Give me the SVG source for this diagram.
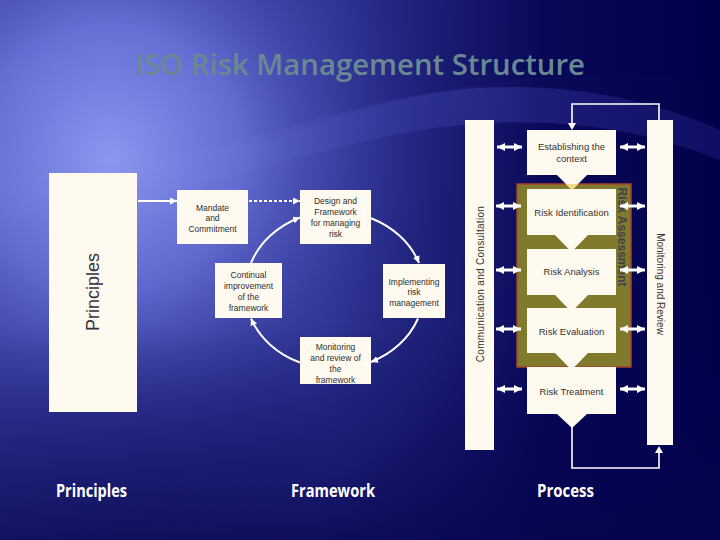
<svg xmlns="http://www.w3.org/2000/svg" width="720" height="540" viewBox="0 0 720 540">
<defs>
<linearGradient id="bgH" x1="0" y1="0" x2="1" y2="0">
<stop offset="0" stop-color="#4e54b8"/>
<stop offset="0.45" stop-color="#3a3fa0"/>
<stop offset="0.75" stop-color="#0a0a5a"/>
<stop offset="1" stop-color="#00004a"/>
</linearGradient>
<radialGradient id="glow" cx="110" cy="160" r="380" gradientUnits="userSpaceOnUse">
<stop offset="0" stop-color="#949ff8" stop-opacity="1"/>
<stop offset="0.35" stop-color="#6f78e0" stop-opacity="0.85"/>
<stop offset="0.75" stop-color="#2a2e90" stop-opacity="0.3"/>
<stop offset="1" stop-color="#000050" stop-opacity="0"/>
</radialGradient>
<linearGradient id="bgV" x1="0" y1="0" x2="0" y2="1">
<stop offset="0" stop-color="#000050" stop-opacity="0"/>
<stop offset="0.6" stop-color="#000050" stop-opacity="0.1"/>
<stop offset="1" stop-color="#05054f" stop-opacity="0.85"/>
</linearGradient>
<linearGradient id="swoosh" x1="0" y1="0" x2="1" y2="0">
<stop offset="0" stop-color="#8a92f0" stop-opacity="0.25"/>
<stop offset="0.6" stop-color="#4a50c0" stop-opacity="0.35"/>
<stop offset="1" stop-color="#3a40b0" stop-opacity="0.25"/>
</linearGradient>
<marker id="ah" viewBox="0 0 8 8" refX="8" refY="4" markerWidth="7" markerHeight="7" markerUnits="userSpaceOnUse" orient="auto">
<path d="M0,0 L8,4 L0,8 z" fill="#ffffff"/>
</marker>
<marker id="dh" viewBox="0 0 8 8" refX="8" refY="4" markerWidth="8" markerHeight="8" markerUnits="userSpaceOnUse" orient="auto-start-reverse">
<path d="M0,0 L8,4 L0,8 z" fill="#ffffff"/>
</marker>
</defs>
<style>
.box{fill:#fffaef}
.t{font-family:"Liberation Sans",Arial,sans-serif;font-size:8.5px;fill:#2e2e2e;text-anchor:middle}
.r{font-family:"Liberation Sans",Arial,sans-serif;font-size:9.5px;fill:#333333;text-anchor:middle}
.bar{font-family:"Liberation Sans",Arial,sans-serif;font-size:10px;fill:#333333;text-anchor:middle}
.lab{font-family:"Open Sans","Liberation Sans",sans-serif;font-size:17px;font-weight:bold;fill:#ffffff;text-anchor:middle}
.cyc{fill:none;stroke:#ffffff;stroke-width:2;marker-end:url(#ah)}
.dbl{stroke:#ffffff;stroke-width:3;marker-start:url(#dh);marker-end:url(#dh)}
.ln{fill:none;stroke:#ffffff;stroke-width:1.6}
</style>
<!-- background -->
<rect width="720" height="540" fill="url(#bgH)"/>
<path d="M0,0 H720 V80 C560,60 420,90 300,130 C200,165 90,150 0,150 Z" fill="#000050" opacity="0.12"/>
<path d="M0,175 C150,185 280,120 420,95 C540,75 640,95 720,130 V160 C620,120 520,115 420,130 C300,150 180,200 0,220 Z" fill="url(#swoosh)"/>
<rect width="720" height="540" fill="url(#glow)"/>
<rect width="720" height="540" fill="url(#bgV)"/>
<!-- title -->
<text x="360" y="75" font-family="'Open Sans','Liberation Sans',sans-serif" font-size="28" font-weight="600" fill="#6a8794" text-anchor="middle" textLength="450" lengthAdjust="spacingAndGlyphs">ISO Risk Management Structure</text>

<!-- Principles -->
<g id="principles">
<rect class="box" x="49" y="173" width="88" height="239"/>
<text transform="translate(99,292) rotate(-90)" font-family="'Liberation Sans',Arial,sans-serif" font-size="18" fill="#333344" text-anchor="middle">Principles</text>
</g>

<!-- Framework nodes -->
<g id="mandate">
<rect class="box" x="177" y="190" width="71" height="54"/>
<text class="t" x="212.5" y="211">Mandate</text>
<text class="t" x="212.5" y="221">and</text>
<text class="t" x="212.5" y="232">Commitment</text>
</g>
<g id="design">
<rect class="box" x="300" y="190" width="71" height="54"/>
<text class="t" x="335.5" y="204">Design and</text>
<text class="t" x="335.5" y="215">Framework</text>
<text class="t" x="335.5" y="226">for managing</text>
<text class="t" x="335.5" y="237">risk</text>
</g>
<g id="implementing">
<rect class="box" x="383" y="264" width="62" height="54"/>
<text class="t" x="414" y="285">Implementing</text>
<text class="t" x="414" y="295">risk</text>
<text class="t" x="414" y="306">management</text>
</g>
<g id="monitoring">
<rect class="box" x="300" y="337" width="71" height="47"/>
<text class="t" x="335.5" y="350">Monitoring</text>
<text class="t" x="335.5" y="361">and review of</text>
<text class="t" x="335.5" y="372">the</text>
<text class="t" x="335.5" y="383">framework</text>
</g>
<g id="continual">
<rect class="box" x="215" y="263" width="67" height="55"/>
<text class="t" x="248.5" y="278">Continual</text>
<text class="t" x="248.5" y="289">improvement</text>
<text class="t" x="248.5" y="300">of the</text>
<text class="t" x="248.5" y="311">framework</text>
</g>

<!-- Process -->
<g id="comm">
<rect class="box" x="465" y="120" width="29" height="330"/>
<text class="bar" transform="translate(483.5,284) rotate(-90)" letter-spacing="0.3">Communication and Consultation</text>
</g>
<g id="review">
<rect class="box" x="647" y="120" width="26" height="325"/>
<text class="bar" transform="translate(656.5,284) rotate(90)" font-size="10.5">Monitoring and Review</text>
</g>
<g id="assessment">
<rect x="517" y="184" width="114" height="183" fill="#7f7a2c" stroke="#a8402a" stroke-width="1.5"/>
<text transform="translate(618,237) rotate(90)" font-family="'Liberation Sans',Arial,sans-serif" font-size="12" font-weight="bold" fill="#404050" text-anchor="middle">Risk Assessment</text>
</g>
<g id="context">
<polygon class="box" points="527,130 616,130 616,175 587,175 572,190 557,175 527,175"/>
<polygon points="566,184 578,184 572,190" fill="#f3dc88"/>
<text class="r" x="571.5" y="150">Establishing the</text>
<text class="r" x="571.5" y="162">context</text>
</g>
<g id="identification">
<polygon class="box" points="527,189 616,189 616,235 588,235 571.5,252 555,235 527,235"/>
<text class="r" x="571.5" y="216">Risk Identification</text>
</g>
<g id="analysis">
<polygon class="box" points="527,249 616,249 616,295 588,295 571.5,312 555,295 527,295"/>
<text class="r" x="571.5" y="275">Risk Analysis</text>
</g>
<g id="evaluation">
<polygon class="box" points="527,308 616,308 616,353 588,353 571.5,370 555,353 527,353"/>
<text class="r" x="571.5" y="335">Risk Evaluation</text>
</g>
<g id="treatment">
<polygon class="box" points="527,367 616,367 616,414 587,414 572,428 557,414 527,414"/>
<text class="r" x="571.5" y="395">Risk Treatment</text>
</g>

<!-- connectors -->
<g id="connectors">
<line x1="138" y1="201" x2="177" y2="201" stroke="#ffffff" stroke-width="2" marker-end="url(#ah)"/>
<line x1="249" y1="201" x2="300" y2="201" stroke="#ffffff" stroke-width="2" stroke-dasharray="3,2" marker-end="url(#ah)"/>
<path class="cyc" d="M371,218.2 A89.5,78.6 0 0 1 419,263"/>
<path class="cyc" d="M418,318.5 A89.5,78.6 0 0 1 371,362"/>
<path class="cyc" d="M300,362.5 A89.5,78.6 0 0 1 251,318.5"/>
<path class="cyc" d="M251,263 A89.5,78.6 0 0 1 300,217.5"/>

<line class="dbl" x1="497" y1="147" x2="522" y2="147"/>
<line class="dbl" x1="496" y1="206" x2="521" y2="206"/>
<line class="dbl" x1="496" y1="270" x2="521" y2="270"/>
<line class="dbl" x1="496" y1="329" x2="521" y2="329"/>
<line class="dbl" x1="497" y1="389" x2="522" y2="389"/>
<line class="dbl" x1="620" y1="147" x2="645" y2="147"/>
<line class="dbl" x1="620" y1="206" x2="645" y2="206"/>
<line class="dbl" x1="620" y1="270" x2="645" y2="270"/>
<line class="dbl" x1="620" y1="329" x2="645" y2="329"/>
<line class="dbl" x1="620" y1="389" x2="645" y2="389"/>

<polyline class="ln" points="659,120 659,104 572,104 572,124"/>
<polygon points="568,123 576,123 572,130" fill="#ffffff"/>
<polyline class="ln" points="572,427 572,468 659,468 659,452"/>
<polygon points="655,453 663,453 659,446" fill="#ffffff"/>
</g>

<!-- bottom labels -->
<text class="lab" x="91.5" y="497" textLength="71" lengthAdjust="spacingAndGlyphs">Principles</text>
<text class="lab" x="333" y="497" textLength="84" lengthAdjust="spacingAndGlyphs">Framework</text>
<text class="lab" x="565.5" y="497" textLength="57" lengthAdjust="spacingAndGlyphs">Process</text>
</svg>
